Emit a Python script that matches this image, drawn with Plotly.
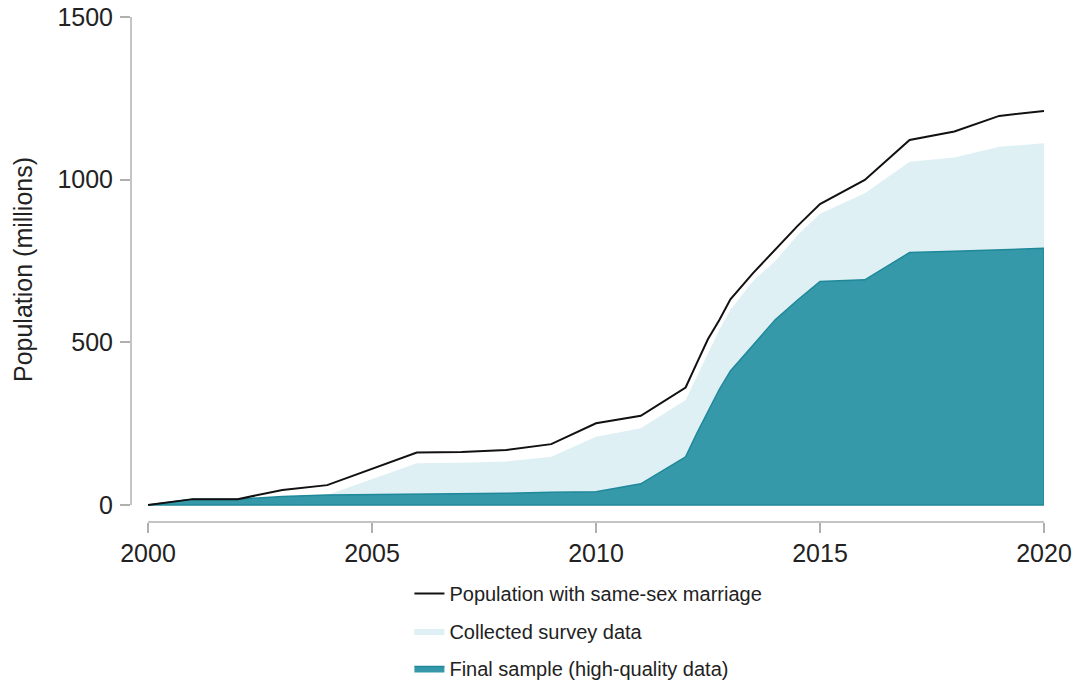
import plotly.graph_objects as go

# Years (quarter steps where the curves bend sharply)
years = [2000, 2001, 2002, 2003, 2004, 2005, 2006, 2007, 2008, 2009, 2010, 2011,
         2012, 2012.25, 2012.5, 2012.75, 2013, 2013.5, 2014, 2014.5, 2015,
         2016, 2017, 2018, 2019, 2020]

# Population (millions)
population = [0, 18, 18, 46, 61, 110, 161, 163, 169, 187, 251, 274,
              361, 436, 510, 568, 632, 712, 784, 858, 925,
              999, 1122, 1148, 1196, 1211]
collected = [0, 18, 18, 27, 31, 80, 128, 130, 134, 148, 210, 236,
             323, 395, 468, 538, 600, 688, 750, 830, 895,
             958, 1055, 1068, 1101, 1112]
final = [0, 18, 18, 26, 31, 32, 33, 34, 36, 39, 41, 65,
         148, 220, 290, 355, 412, 490, 569, 630, 687,
         692, 776, 780, 784, 789]

fnt = "Liberation Sans, Arial, sans-serif"

fig = go.Figure()

fig.add_trace(go.Scatter(
    x=years, y=collected, mode="lines", fill="tozeroy",
    fillcolor="#dff0f5", line=dict(width=0, color="#dff0f5"),
    name="Collected survey data", legendgroup="b", legendrank=2))

# closed polygon so the teal area gets an outline all round
fig.add_trace(go.Scatter(
    x=years + years[::-1], y=final + [0] * len(years), mode="lines", fill="toself",
    fillcolor="#3599aa", line=dict(width=1.5, color="#1f8899"),
    name="Final sample (high-quality data)", legendgroup="c", legendrank=3))

fig.add_trace(go.Scatter(
    x=years, y=population, mode="lines",
    line=dict(width=2, color="#111111"),
    name="Population with same-sex marriage", legendgroup="a", legendrank=1))

axis_col = "#b0b0b0"
# detached axis lines, spanning only the data range
fig.add_shape(type="line", xref="x", yref="paper", x0=2000, x1=2020, y0=0, y1=0,
              line=dict(color=axis_col, width=1.5))
fig.add_shape(type="line", xref="paper", yref="y", x0=0, x1=0, y0=0, y1=1500,
              line=dict(color=axis_col, width=1.5))

fig.update_xaxes(range=[1999.62, 2020], tickvals=[2000, 2005, 2010, 2015, 2020],
                 ticks="outside", ticklen=10, tickcolor=axis_col, tickwidth=1.5,
                 ticklabelstandoff=-1, ticklabeloverflow="allow",
                 showgrid=False, zeroline=False, showline=False, automargin=False,
                 tickfont=dict(family=fnt, size=25, color="#222222"))
fig.update_yaxes(range=[-52.3, 1500], tickvals=[0, 500, 1000, 1500],
                 ticks="outside", ticklen=10, tickcolor=axis_col, tickwidth=1.5,
                 ticklabelstandoff=2, ticklabeloverflow="allow",
                 showgrid=False, zeroline=False, showline=False, automargin=False,
                 tickfont=dict(family=fnt, size=25, color="#222222"),
                 title=dict(text="Population (millions)", standoff=17,
                            font=dict(family=fnt, size=25, color="#222222")))

fig.update_layout(
    width=1083, height=681,
    margin=dict(l=131, r=39, t=17, b=159),
    plot_bgcolor="white", paper_bgcolor="white",
    showlegend=True,
    legend=dict(x=0.501, xanchor="center", yref="container", y=0.157, yanchor="top",
                traceorder="grouped", tracegroupgap=8.5,
                font=dict(family=fnt, size=20, color="#222222")),
)

# drop the default 8px body margin so the figure fills the window
fig.write_html("out.html", config={"displayModeBar": False},
               post_script="document.body.style.margin='0';")
